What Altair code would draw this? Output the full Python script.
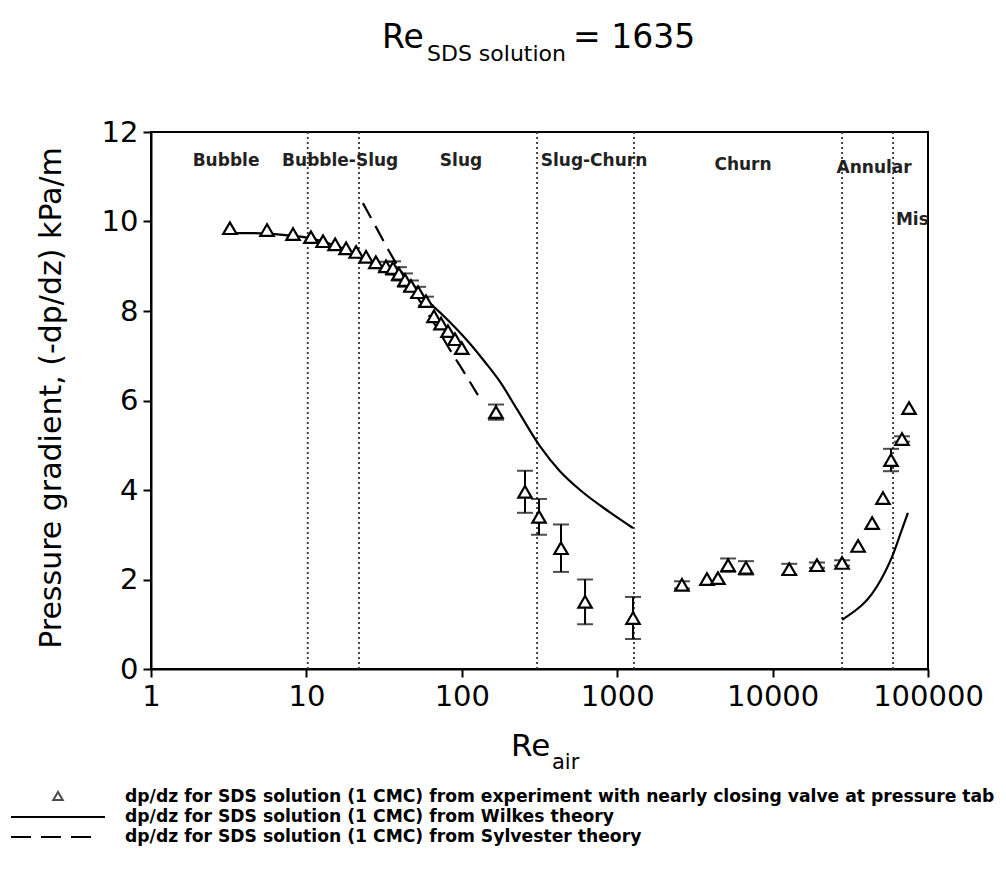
import altair as alt
import pandas as pd

# ---------------- data ----------------
exp_re = [3.22, 5.58, 8.20, 10.7, 12.8, 15.3, 18.0, 20.9, 24.2, 28.0, 32.5, 36.1, 39.4, 43.1,
          47.1, 52.3, 58.8, 66.2, 73.5, 81.5, 90.4, 100,
          166, 255, 314, 435, 621, 1264,
          2610, 3780, 4450, 5170, 6740, 12800, 19300, 28000, 35500, 43700, 51300, 57800, 68000, 75500]
exp_dp = [9.85, 9.81, 9.72, 9.65, 9.56, 9.49, 9.40, 9.32, 9.21, 9.09, 9.00, 8.96, 8.83, 8.69,
          8.56, 8.42, 8.22, 7.88, 7.72, 7.55, 7.37, 7.17,
          5.74, 3.96, 3.40, 2.70, 1.50, 1.14,
          1.88, 2.01, 2.03, 2.32, 2.26, 2.23, 2.32, 2.37, 2.75, 3.26, 3.82, 4.67, 5.14, 5.83]
exp_err = [0, 0, 0, 0, 0, 0, 0, 0, 0, 0, 0.10, 0.15, 0.15, 0.15,
           0.12, 0.12, 0.10, 0, 0, 0, 0, 0,
           0.17, 0.47, 0.40, 0.53, 0.50, 0.47,
           0.08, 0, 0, 0.15, 0.15, 0.12, 0.06, 0.06, 0, 0, 0, 0.25, 0.06, 0]

wilkes_re_1 = [2.91, 4.34, 7.07, 10.5, 15.7, 23.1, 31.1, 40.0, 51.5, 65.3, 84.0, 113, 141, 176,
               227, 318, 428, 577, 899, 1264]
wilkes_dp_1 = [9.74, 9.74, 9.70, 9.63, 9.45, 9.18, 8.96, 8.71, 8.41, 8.11, 7.75, 7.27, 6.86, 6.42,
               5.80, 4.98, 4.42, 4.00, 3.50, 3.15]
wilkes_re_2 = [28000, 36500, 40500, 47000, 52900, 58600, 66000, 74300]
wilkes_dp_2 = [1.10, 1.39, 1.54, 1.85, 2.17, 2.50, 2.99, 3.49]

sylv_re = [23.1, 28.0, 34.5, 44.9, 54.6, 68.2, 84.0, 103, 127]
sylv_dp = [10.41, 9.88, 9.30, 8.65, 8.18, 7.66, 7.13, 6.64, 6.12]

boundaries = [10.2, 21.8, 305, 1282, 28000, 59600]

regime_names = ["Bubble", "Bubble-Slug", "Slug", "Slug-Churn", "Churn", "Annular"]
regime_re = [3.04, 16.5, 98.8, 709, 6450, 45000]
regime_dp = [11.35, 11.35, 11.35, 11.35, 11.26, 11.2]
mist_name = ["Mist"]
mist_re = [62200]
mist_dp = [10.03]

x_ticks = [1, 10, 100, 1000, 10000, 100000]
y_ticks = [0, 2, 4, 6, 8, 10, 12]

legend_texts = [
    "dp/dz for SDS solution (1 CMC) from experiment with nearly closing valve at pressure tab",
    "dp/dz for SDS solution (1 CMC) from Wilkes theory",
    "dp/dz for SDS solution (1 CMC) from Sylvester theory",
]

FONT = "DejaVu Sans"

# ---------------- tables ----------------
exp_df = pd.DataFrame({"re": exp_re, "dp": exp_dp, "err": exp_err})
exp_df["lo"] = exp_df["dp"] - exp_df["err"]
exp_df["hi"] = exp_df["dp"] + exp_df["err"]
err_df = exp_df[exp_df["err"] > 0]
caps_df = pd.concat([
    pd.DataFrame({"re": err_df["re"], "dp": err_df["lo"]}),
    pd.DataFrame({"re": err_df["re"], "dp": err_df["hi"]}),
])
wilkes_df = pd.concat([
    pd.DataFrame({"re": wilkes_re_1, "dp": wilkes_dp_1, "seg": "a"}),
    pd.DataFrame({"re": wilkes_re_2, "dp": wilkes_dp_2, "seg": "b"}),
])
sylv_df = pd.DataFrame({"re": sylv_re, "dp": sylv_dp})
bound_df = pd.DataFrame({"re": boundaries})
regime_df = pd.DataFrame({"re": regime_re, "dp": regime_dp, "name": regime_names})
mist_df = pd.DataFrame({"re": mist_re, "dp": mist_dp, "name": mist_name})

xscale = alt.Scale(type="log", domain=[1, 100000], nice=False)
yscale = alt.Scale(domain=[0, 12], nice=False, zero=False)
xaxis = alt.Axis(values=x_ticks, format="d", title=None, grid=False, tickSize=8, tickWidth=2,
                 tickColor="black", domainColor="black", domainWidth=2, labelFontSize=29,
                 labelFont=FONT, labelColor="black", labelPadding=5, labelFlush=False)
yaxis = alt.Axis(values=y_ticks, title=None, grid=False, tickSize=8, tickWidth=2,
                 tickColor="black", domainColor="black", domainWidth=2, labelFontSize=29,
                 labelFont=FONT, labelColor="black", labelPadding=5, labelFlush=False)
X = alt.X("re:Q", scale=xscale, axis=xaxis)
Y = alt.Y("dp:Q", scale=yscale, axis=yaxis)

bounds = alt.Chart(bound_df).mark_rule(color="#333", strokeWidth=1.8, strokeDash=[2, 3]).encode(x=X)

wilkes = alt.Chart(wilkes_df).mark_line(color="black", strokeWidth=2.2, interpolate="monotone").encode(
    x=X, y=Y, detail="seg:N")
sylv = alt.Chart(sylv_df).mark_line(color="black", strokeWidth=2.2, strokeDash=[17, 9],
                                    interpolate="monotone").encode(x=X, y=Y)

err_rule = alt.Chart(err_df).mark_rule(color="black", strokeWidth=2).encode(
    x=X, y=alt.Y("lo:Q", scale=yscale, axis=yaxis), y2="hi:Q")
caps = alt.Chart(caps_df).mark_tick(color="black", orient="horizontal", size=16, thickness=2).encode(x=X, y=Y)

points = alt.Chart(exp_df).mark_point(shape="triangle-up", size=180, filled=True, fill="white",
                                      stroke="black", strokeWidth=2.2, opacity=1).encode(x=X, y=Y)

regimes = alt.Chart(regime_df).mark_text(font=FONT, fontSize=17, fontWeight="bold", color="#222",
                                         align="center", baseline="middle").encode(x=X, y=Y, text="name:N")
mist = alt.Chart(mist_df).mark_text(font=FONT, fontSize=17, fontWeight="bold", color="#222",
                                    align="left", baseline="middle", clip=True).encode(x=X, y=Y, text="name:N")

one = pd.DataFrame({"a": [0]})


def txt(s, x, y, size, **kw):
    return alt.Chart(one).mark_text(text=s, font=FONT, fontSize=size, color="black",
                                    align=kw.pop("align", "left"), baseline=kw.pop("baseline", "alphabetic"),
                                    **kw).encode(x=alt.value(x), y=alt.value(y))


# title  Re_{SDS solution} = 1635
t1 = txt("Re", 231, -84, 33)
t2 = txt("SDS solution", 276, -71, 22)
t3 = txt("= 1635", 422, -84, 33)
# x title Re_air
xt1 = txt("Re", 360, 624, 31)
xt2 = txt("air", 401, 637, 21)
# y title
yt = txt("Pressure gradient, (-dp/dz) kPa/m", -99, 266, 30, align="center", baseline="middle", angle=270)

# legend
leg_tri = alt.Chart(one).mark_point(shape="triangle-up", size=90, filled=False, stroke="black",
                                    strokeWidth=2).encode(x=alt.value(-93), y=alt.value(664))
leg_solid = alt.Chart(one).mark_rule(color="black", strokeWidth=2).encode(
    x=alt.value(-140), x2=alt.value(-46), y=alt.value(685))
leg_dash = alt.Chart(one).mark_rule(color="black", strokeWidth=2, strokeDash=[20, 10]).encode(
    x=alt.value(-140), x2=alt.value(-56), y=alt.value(705))
leg_t = [txt(s, -26, 665 + 20 * i, 17.2, baseline="middle", fontWeight="bold")
         for i, s in enumerate(legend_texts)]

chart = alt.layer(
    bounds, wilkes, sylv, err_rule, caps, points, regimes, mist,
    t1, t2, t3, xt1, xt2, yt, leg_tri, leg_solid, leg_dash, *leg_t
).properties(
    width=777, height=537,
    padding={"left": 151, "top": 132, "right": 78, "bottom": 226},
    autosize=alt.AutoSizeParams(type="none"),
    background="white",
).configure_view(stroke="black", strokeWidth=2)

chart.save("out.html", embed_options={"renderer": "svg", "actions": False})
